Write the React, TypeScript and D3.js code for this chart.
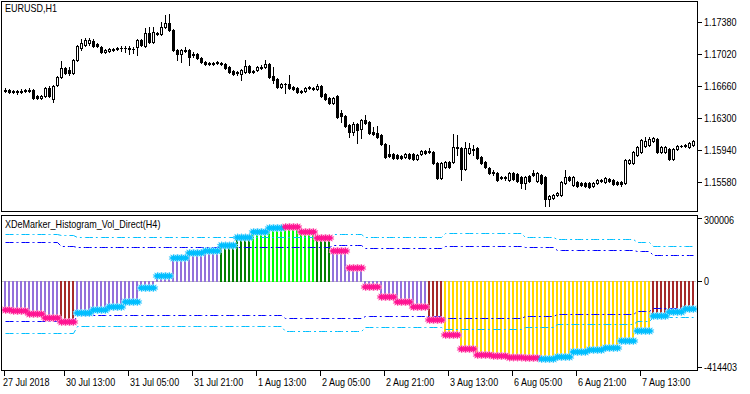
import React from 'react';
import * as d3 from 'd3';

// ---------- data ----------
const tickBars = [0, 15, 31, 47, 63, 79, 95, 111, 127, 143, 159];
const tickLabels = ['27 Jul 2018', '30 Jul 13:00', '31 Jul 05:00', '31 Jul 21:00', '1 Aug 13:00', '2 Aug 05:00', '2 Aug 21:00', '3 Aug 13:00', '6 Aug 05:00', '6 Aug 21:00', '7 Aug 13:00'];
const priceTicks = [1.1738, 1.1702, 1.1666, 1.163, 1.1594, 1.1558];
const priceTickLabels = ['1.17380', '1.17020', '1.16660', '1.16300', '1.15940', '1.15580'];
const indTicks = [300006, 0, -414403];

const open = [
  1.16604,1.16615,1.16593,1.16604,1.16593,1.16604,1.16615,1.16615,1.16548,1.16525,
  1.16548,1.16638,1.16514,1.16671,1.16761,1.16863,1.16840,1.16806,1.16953,1.17088,
  1.17121,1.17144,1.17166,1.17133,1.17099,1.17043,1.17054,1.17076,1.17076,1.17088,
  1.17088,1.17088,1.17076,1.17099,1.17178,1.17110,1.17256,1.17155,1.17256,1.17245,
  1.17324,1.17369,1.17290,1.17065,1.17020,1.17065,1.17065,1.17020,1.17020,1.16975,
  1.16930,1.16919,1.16908,1.16919,1.16919,1.16908,1.16874,1.16829,1.16818,1.16795,
  1.16818,1.16885,1.16829,1.16840,1.16874,1.16874,1.16908,1.16773,1.16739,1.16649,
  1.16683,1.16683,1.16649,1.16638,1.16604,1.16604,1.16649,1.16638,1.16626,1.16660,
  1.16570,1.16525,1.16469,1.16548,1.16356,1.16323,1.16221,1.16143,1.16233,1.16176,
  1.16278,1.16255,1.16143,1.16131,1.16109,1.16008,1.15895,1.15895,1.15884,1.15873,
  1.15861,1.15895,1.15895,1.15839,1.15895,1.15929,1.15929,1.15918,1.15794,1.15625,
  1.15749,1.15805,1.15805,1.15974,1.15963,1.15726,1.15906,1.15951,1.15963,1.15861,
  1.15805,1.15738,1.15693,1.15681,1.15636,1.15636,1.15603,1.15681,1.15670,1.15636,
  1.15569,1.15648,1.15681,1.15591,1.15659,1.15636,1.15389,1.15400,1.15434,1.15434,
  1.15569,1.15636,1.15546,1.15580,1.15569,1.15569,1.15569,1.15535,1.15569,1.15603,
  1.15580,1.15614,1.15603,1.15580,1.15580,1.15569,1.15794,1.15794,1.15884,1.15918,
  1.15985,1.15996,1.16041,1.16064,1.15918,1.15918,1.15951,1.15839,1.15951,1.15985,
  1.15996,1.15974,1.15996,
];
const high = [
  1.16638,1.16626,1.16615,1.16615,1.16626,1.16626,1.16638,1.16626,1.16559,1.16559,
  1.16649,1.16660,1.16671,1.16773,1.16941,1.16874,1.16874,1.16964,1.17121,1.17189,
  1.17200,1.17200,1.17189,1.17144,1.17110,1.17076,1.17088,1.17088,1.17099,1.17110,
  1.17110,1.17110,1.17099,1.17189,1.17189,1.17313,1.17324,1.17324,1.17268,1.17380,
  1.17459,1.17470,1.17301,1.17076,1.17076,1.17099,1.17076,1.17043,1.17031,1.16986,
  1.16941,1.16930,1.16930,1.16941,1.16930,1.16919,1.16885,1.16840,1.16829,1.16851,
  1.16953,1.16896,1.16840,1.16885,1.16896,1.16953,1.16919,1.16874,1.16750,1.16694,
  1.16694,1.16784,1.16660,1.16649,1.16615,1.16649,1.16660,1.16649,1.16683,1.16671,
  1.16581,1.16536,1.16536,1.16559,1.16390,1.16334,1.16233,1.16255,1.16244,1.16289,
  1.16334,1.16266,1.16199,1.16210,1.16120,1.16019,1.15996,1.15906,1.15895,1.15884,
  1.15906,1.15906,1.15906,1.15895,1.15940,1.15940,1.15963,1.15929,1.15805,1.15805,
  1.15816,1.15816,1.16120,1.16109,1.15974,1.16030,1.16019,1.15996,1.15974,1.15873,
  1.15816,1.15749,1.15715,1.15693,1.15648,1.15648,1.15693,1.15693,1.15681,1.15648,
  1.15648,1.15659,1.15715,1.15693,1.15670,1.15648,1.15434,1.15445,1.15468,1.15591,
  1.15715,1.15648,1.15648,1.15591,1.15580,1.15580,1.15580,1.15580,1.15614,1.15614,
  1.15636,1.15625,1.15614,1.15591,1.15591,1.15839,1.15839,1.15929,1.15985,1.16064,
  1.16086,1.16086,1.16086,1.16075,1.15985,1.15985,1.15963,1.15963,1.15996,1.15996,
  1.16008,1.16030,1.16053,
];
const low = [
  1.16593,1.16581,1.16581,1.16570,1.16581,1.16593,1.16593,1.16514,1.16514,1.16514,
  1.16536,1.16536,1.16480,1.16660,1.16750,1.16795,1.16784,1.16795,1.16941,1.17065,
  1.17110,1.17121,1.17099,1.17099,1.17031,1.17031,1.17043,1.17054,1.17065,1.17054,
  1.17043,1.17020,1.17031,1.17009,1.17110,1.17099,1.17144,1.17144,1.17234,1.17234,
  1.17313,1.17279,1.17054,1.16953,1.16930,1.17043,1.16896,1.16986,1.16964,1.16919,
  1.16896,1.16896,1.16896,1.16908,1.16896,1.16851,1.16806,1.16784,1.16784,1.16728,
  1.16806,1.16806,1.16806,1.16829,1.16851,1.16863,1.16750,1.16694,1.16638,1.16638,
  1.16581,1.16626,1.16615,1.16581,1.16581,1.16593,1.16626,1.16615,1.16615,1.16536,
  1.16503,1.16458,1.16458,1.16300,1.16255,1.16199,1.16086,1.16109,1.16019,1.16075,
  1.16233,1.16120,1.16109,1.16075,1.15996,1.15850,1.15861,1.15839,1.15839,1.15839,
  1.15850,1.15839,1.15828,1.15828,1.15884,1.15895,1.15906,1.15783,1.15614,1.15614,
  1.15738,1.15738,1.15794,1.15884,1.15603,1.15715,1.15895,1.15884,1.15839,1.15783,
  1.15738,1.15670,1.15659,1.15591,1.15614,1.15603,1.15591,1.15603,1.15580,1.15513,
  1.15501,1.15580,1.15648,1.15580,1.15558,1.15310,1.15310,1.15389,1.15423,1.15423,
  1.15558,1.15591,1.15535,1.15524,1.15535,1.15524,1.15513,1.15524,1.15558,1.15580,
  1.15569,1.15580,1.15546,1.15546,1.15535,1.15558,1.15783,1.15783,1.15873,1.15906,
  1.15974,1.15985,1.16030,1.15906,1.15906,1.15906,1.15828,1.15828,1.15940,1.15974,
  1.15974,1.15963,1.15985,
];
const close = [
  1.16615,1.16593,1.16604,1.16593,1.16604,1.16615,1.16604,1.16525,1.16525,1.16548,
  1.16638,1.16548,1.16660,1.16761,1.16863,1.16806,1.16806,1.16953,1.17110,1.17144,
  1.17178,1.17178,1.17110,1.17110,1.17043,1.17065,1.17076,1.17065,1.17088,1.17088,
  1.17088,1.17076,1.17076,1.17178,1.17121,1.17256,1.17155,1.17268,1.17245,1.17324,
  1.17369,1.17290,1.17065,1.17020,1.17065,1.17054,1.16986,1.17009,1.16975,1.16930,
  1.16908,1.16908,1.16919,1.16930,1.16908,1.16863,1.16818,1.16795,1.16806,1.16840,
  1.16885,1.16818,1.16818,1.16874,1.16863,1.16908,1.16761,1.16728,1.16649,1.16683,
  1.16683,1.16638,1.16626,1.16593,1.16593,1.16638,1.16638,1.16626,1.16660,1.16548,
  1.16514,1.16469,1.16525,1.16311,1.16323,1.16210,1.16143,1.16233,1.16165,1.16278,
  1.16244,1.16131,1.16120,1.16086,1.16008,1.15861,1.15873,1.15850,1.15850,1.15850,
  1.15895,1.15850,1.15839,1.15884,1.15929,1.15906,1.15918,1.15794,1.15625,1.15794,
  1.15805,1.15749,1.15974,1.15963,1.15726,1.15963,1.15963,1.15940,1.15850,1.15794,
  1.15749,1.15681,1.15681,1.15603,1.15625,1.15625,1.15681,1.15614,1.15591,1.15569,
  1.15636,1.15591,1.15659,1.15681,1.15569,1.15389,1.15423,1.15434,1.15456,1.15580,
  1.15636,1.15603,1.15636,1.15535,1.15546,1.15535,1.15524,1.15569,1.15603,1.15591,
  1.15625,1.15591,1.15558,1.15558,1.15558,1.15828,1.15828,1.15918,1.15974,1.16053,
  1.16041,1.16064,1.16075,1.15918,1.15974,1.15974,1.15839,1.15951,1.15985,1.15985,
  1.15985,1.16019,1.16041,
];

// indicator values, one per H4 bar (shown on H1 bars)
const h4Hist = [
  -141100,-145900,-160300,-179500,-198700,-155500,-141100,-126700,-102800,-35600,
  21900,108200,132200,141800,168100,206500,232900,252100,256900,232900,
  204100,141800,60300,-30800,-78800,-102800,-126700,-189100,-261000,-328100,
  -356900,-361700,-368900,-371300,-376100,-366500,-342500,-332900,-323300,-289700,
  -241800,-170000,-150700,-136300,
];
const h4Color = [
  'purple','purple','purple','purple','brown','purple','purple','purple','purple','purple',
  'purple','purple','purple','purple','green','green','lime','lime','lime','lime',
  'green','purple','purple','purple','purple','purple','purple','brown','gold','gold',
  'gold','gold','gold','gold','gold','gold','gold','gold','gold','gold',
  'gold','brown','brown','brown',
];
const h4Dir = [
  'dn','dn','dn','dn','dn','up','up','up','up','up',
  'up','up','up','up','up','up','up','up','dn','dn',
  'dn','dn','dn','dn','dn','dn','dn','dn','dn','dn',
  'dn','dn','dn','dn','up','up','up','up','up','up',
  'up','up','up','up',
];
const h4UpperOuter = [
  223300,223300,223300,223300,218500,208900,208900,208900,208900,208900,
  208900,208900,208900,208900,208900,208900,208900,208900,208900,208900,
  208900,223300,223300,208900,208900,208900,208900,208900,225700,225700,
  225700,225700,225700,208900,208900,199300,199300,199300,199300,199300,
  184900,165700,165700,165700,
];
const h4UpperInner = [
  184900,184900,184900,184900,165700,158600,158600,158600,158600,158600,
  158600,158600,158600,158600,158600,158600,158600,158600,158600,158600,
  158600,170500,170500,156200,156200,156200,156200,156200,168100,168100,
  168100,168100,168100,160900,160900,146600,146600,146600,146600,146600,
  139400,122600,122600,122600,
];
const h4LowerInner = [
  -193900,-193900,-193900,-193900,-193900,-165100,-165100,-165100,-165100,-165100,
  -165100,-165100,-165100,-165100,-165100,-165100,-165100,-165100,-179500,-179500,
  -179500,-179500,-179500,-167500,-167500,-167500,-167500,-167500,-177100,-177100,
  -177100,-177100,-177100,-167500,-167500,-157900,-157900,-157900,-157900,-157900,
  -145900,-131500,-131500,-131500,
];
const h4LowerOuter = [
  -251400,-251400,-251400,-251400,-251400,-217800,-217800,-217800,-217800,-217800,
  -217800,-217800,-217800,-217800,-217800,-217800,-217800,-217800,-241800,-241800,
  -241800,-241800,-241800,-222600,-222600,-222600,-222600,-222600,-232200,-232200,
  -232200,-232200,-232200,-225000,-225000,-210600,-210600,-210600,-210600,-210600,
  -196200,-176000,-176000,-176000,
];

// ---------- styles ----------
const histFill: Record<string, string> = {
  purple: '#9370DB', brown: '#A52A2A', green: '#008000', lime: '#00FF00', gold: '#FFD700',
};
const starFill: Record<string, string> = { up: '#00BFFF', dn: '#FF1493' };
const starHalo: Record<string, string> = { up: '#8FDFFF', dn: '#FF99CC' };
const FONT = "'Liberation Sans',Arial,sans-serif";
const FS = 10.5;
const SX = 0.86;

const W = 750, H = 394;
const L = 1.5, R = 697.5;
const TOP_T = 1.5, TOP_B = 211.5;
const BOT_T = 215.5, BOT_B = 370.5;

const h4Of = (i: number) => Math.floor((i + 2) / 4);

function starPath(r1: number, r2: number, n: number) {
  const pts: [number, number][] = d3.range(2 * n).map((k) => [
    (Math.PI * k) / n,
    k % 2 === 0 ? r1 : r2,
  ]);
  return d3.lineRadial<[number, number]>().angle((d) => d[0]).radius((d) => d[1]).curve(d3.curveLinearClosed)(pts) || '';
}

function NText({ x, y, children }: { x: number; y: number; children: React.ReactNode }) {
  return (
    <text transform={`translate(${x},${y}) scale(${SX},1)`} fontSize={FS} fill="#000">{children}</text>
  );
}

export default function App() {
  const n = close.length;
  const x = d3.scaleLinear().domain([0, n - 1]).range([5, 5 + 4 * (n - 1)]);
  const yP = d3.scaleLinear().domain([1.1558, 1.1738]).range([182, 22]);
  const yI = d3.scaleLinear().domain([-414403, 300006]).range([367, 218]);
  const idx = d3.range(n);
  const star = starPath(4.8, 2.3, 10);

  const levelLine = (arr: number[]) =>
    d3.line<number>().x((i) => x(i) + 0.5).y((i) => Math.round(yI(arr[h4Of(i)])) + 0.5)(idx) || '';

  const zeroY = Math.round(yI(0)) + 0.5;
  const starT = (i: number) => `translate(${x(i) + 0.5},${yI(h4Hist[h4Of(i)])}) scale(1,0.82)`;

  return (
    <svg width={W} height={H} style={{ position: 'absolute', left: 0, top: 0, background: '#fff' }}
      fontFamily={FONT}>
      <rect x={0} y={0} width={W} height={H} fill="#fff" />
      <defs>
        <clipPath id="clipTop"><rect x={L} y={TOP_T} width={R - L} height={TOP_B - TOP_T} /></clipPath>
        <clipPath id="clipBot"><rect x={L} y={BOT_T} width={R - L} height={BOT_B - BOT_T} /></clipPath>
      </defs>

      {/* ---- price panel ---- */}
      <g clipPath="url(#clipTop)">
        {idx.map((i) => {
          const cx = Math.round(x(i)) + 0.5;
          const yo = Math.round(yP(open[i]));
          const yc = Math.round(yP(close[i]));
          const yh = Math.round(yP(high[i]));
          const yl = Math.round(yP(low[i]));
          const t = Math.min(yo, yc), b = Math.max(yo, yc);
          const bull = close[i] >= open[i];
          return (
            <g key={i} shapeRendering="crispEdges">
              <line x1={cx} x2={cx} y1={yh} y2={yl + 1} stroke="#000" strokeWidth={1} />
              {b - t >= 1 ? (
                <rect x={cx - 1} y={t + 0.5} width={2} height={b - t} fill={bull ? '#fff' : '#000'} stroke="#000" strokeWidth={1} />
              ) : (
                <line x1={cx - 1.5} x2={cx + 1.5} y1={t + 0.5} y2={t + 0.5} stroke="#000" strokeWidth={1} />
              )}
            </g>
          );
        })}
      </g>
      <rect x={L} y={TOP_T} width={R - L} height={TOP_B - TOP_T} fill="none" stroke="#000" strokeWidth={1} shapeRendering="crispEdges" />
      <NText x={5} y={12}>EURUSD,H1</NText>
      {priceTicks.map((p, k) => {
        const yy = Math.round(yP(p)) + 0.5;
        return (
          <g key={k}>
            <line x1={R} x2={R + 4} y1={yy} y2={yy} stroke="#000" shapeRendering="crispEdges" />
            <NText x={704} y={yy + 3.5}>{priceTickLabels[k]}</NText>
          </g>
        );
      })}

      {/* ---- indicator panel ---- */}
      <g clipPath="url(#clipBot)">
        <line x1={L} x2={R} y1={zeroY} y2={zeroY} stroke="#C0C0C0" strokeDasharray="2,2" shapeRendering="crispEdges" />
        {idx.map((i) => {
          const g = h4Of(i);
          const v = h4Hist[g];
          const y0 = Math.round(yI(0));
          const yv = Math.round(yI(v));
          return (
            <rect key={i} x={Math.round(x(i)) - 1} y={Math.min(y0, yv)} width={2} height={Math.abs(yv - y0) + 1}
              fill={histFill[h4Color[g]]} shapeRendering="crispEdges" />
          );
        })}
        <path d={levelLine(h4UpperOuter)} fill="none" stroke="#00BFFF" strokeWidth={1} strokeDasharray="8,3,2,3" />
        <path d={levelLine(h4UpperInner)} fill="none" stroke="#0000FF" strokeWidth={1} strokeDasharray="8,3,2,3" />
        <path d={levelLine(h4LowerInner)} fill="none" stroke="#0000FF" strokeWidth={1} strokeDasharray="8,3,2,3" />
        <path d={levelLine(h4LowerOuter)} fill="none" stroke="#00BFFF" strokeWidth={1} strokeDasharray="8,3,2,3" />
        {idx.map((i) => {
          const d = h4Dir[h4Of(i)];
          return (
            <path key={'h' + i} d={star} transform={starT(i)} fill={starHalo[d]} stroke={starHalo[d]} strokeWidth={1} />
          );
        })}
        {idx.map((i) => {
          const d = h4Dir[h4Of(i)];
          return <path key={i} d={star} transform={starT(i)} fill={starFill[d]} />;
        })}
      </g>
      <rect x={L} y={BOT_T} width={R - L} height={BOT_B - BOT_T} fill="none" stroke="#000" strokeWidth={1} shapeRendering="crispEdges" />
      <NText x={5} y={228}>XDeMarker_Histogram_Vol_Direct(H4)</NText>
      {indTicks.map((v, k) => {
        const yy = Math.round(yI(v)) + 0.5;
        return (
          <g key={k}>
            <line x1={R} x2={R + 4} y1={yy} y2={yy} stroke="#000" shapeRendering="crispEdges" />
            <NText x={704} y={Math.min(Math.max(yy + 3.5, BOT_T + 8), BOT_B)}>{String(v)}</NText>
          </g>
        );
      })}

      {/* ---- time axis ---- */}
      {tickBars.map((b, k) => {
        const tx = Math.round(x(b)) - 0.5;
        return (
          <g key={k}>
            <line x1={tx} x2={tx} y1={BOT_B} y2={BOT_B + 5} stroke="#000" shapeRendering="crispEdges" />
            <NText x={k === 0 ? 3 : tx + 1.5} y={386}>{tickLabels[k]}</NText>
          </g>
        );
      })}
    </svg>
  );
}
